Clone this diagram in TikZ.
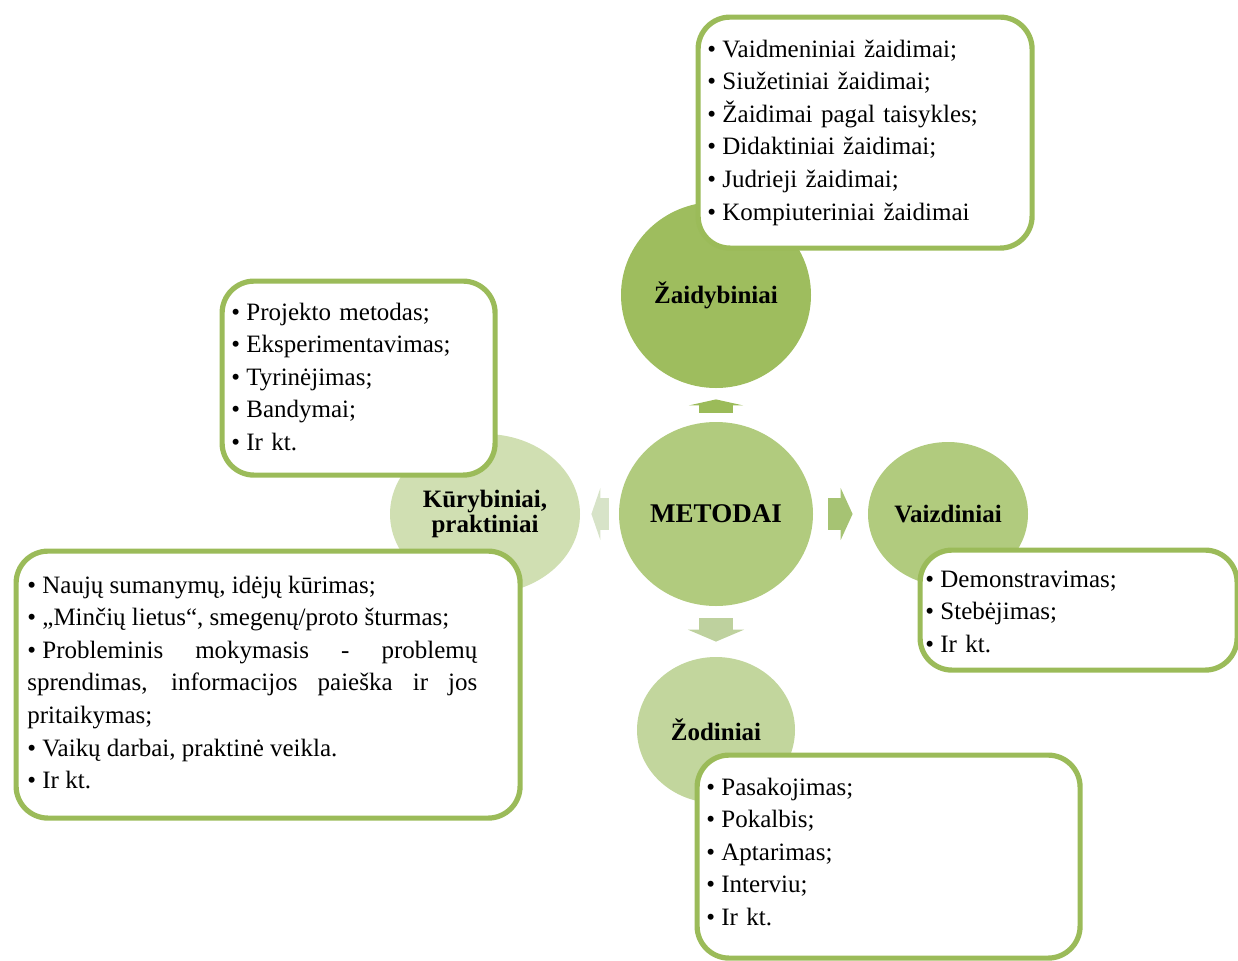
\documentclass[tikz,border=0pt]{standalone}
\usepackage{fontspec}
\setmainfont{Liberation Serif}
\usepackage{tikz}
\usetikzlibrary{shapes.geometric,arrows.meta}

\definecolor{zaidgreen}{RGB}{158,189,94}
\definecolor{metgreen}{RGB}{177,203,126}
\definecolor{zodgreen}{RGB}{194,214,157}
\definecolor{kurgreen}{RGB}{208,223,178}
\definecolor{boxgreen}{RGB}{155,187,89}
\definecolor{arrowup}{RGB}{155,187,89}
\definecolor{arrowright}{RGB}{166,195,115}
\definecolor{arrowdown}{RGB}{190,209,158}
\definecolor{arrowleft}{RGB}{215,227,200}
\newcommand\bul{•\hspace{0.25em}}

\begin{document}
\begin{tikzpicture}[x=0.5pt,y=-0.5pt,
  method/.style={ellipse,inner sep=0pt,align=center,font=\fontsize{12.5pt}{12.5pt}\selectfont\bfseries},
  listbox/.style={draw=boxgreen,line width=2.6pt,fill=white,rounded corners=16pt,anchor=north west},
  listtext/.style={inner sep=0pt,anchor=base west,font=\fontsize{12.5pt}{16.3pt}\selectfont},
  blockarrow/.style n args={3}{line width=#1,-{Triangle[length=#2,width=#3]}}]
\useasboundingbox (0,0) rectangle (1238,960);
\node[method,fill=zaidgreen,minimum width=95pt,minimum height=93pt] (zaid) at (716,295) {Žaidybiniai};
\node[method,fill=metgreen,minimum width=97pt,minimum height=92pt,font=\fontsize{13.5pt}{13.5pt}\selectfont\bfseries] (metodai) at (716,514) {METODAI};
\node[method,fill=metgreen,minimum width=80pt,minimum height=72pt] (vaizd) at (948,514) {Vaizdiniai};
\node[method,fill=zodgreen,minimum width=79pt,minimum height=73pt] (zod) at (716,730) {Žodiniai};
\node[method,fill=kurgreen,minimum width=95pt,minimum height=80pt] (kur) at (485,514) {Kūrybiniai,\\praktiniai};
\draw[arrowup,blockarrow={17pt}{3pt}{27pt},shorten <=4.5pt,shorten >=5.5pt] (metodai) -- (zaid);
\draw[arrowright,blockarrow={16pt}{6pt}{26pt},shorten <=7.5pt,shorten >=7.5pt] (metodai) -- (vaizd);
\draw[arrowdown,blockarrow={17pt}{6pt}{28pt},shorten <=6pt,shorten >=7.5pt] (metodai) -- (zod);
\draw[arrowleft,blockarrow={16pt}{4.5pt}{26pt},shorten <=5pt,shorten >=5.5pt] (metodai) -- (kur);
\node[listbox,minimum width=167pt,minimum height=115.5pt] (zaidbox) at (695.5,14.5) {};
\node[listbox,minimum width=136.5pt,minimum height=97pt] (projbox) at (219.5,278.5) {};
\node[listbox,minimum width=252pt,minimum height=133.5pt] (kurbox) at (13.5,548.5) {};
\node[listbox,minimum width=158.5pt,minimum height=60pt] (vaizdbox) at (917.5,547.5) {};
\node[listbox,minimum width=191.5pt,minimum height=101.5pt] (zodbox) at (694.5,752.5) {};
\node[listtext,text width=160pt,align=left] (zaidlist) at (707,57) {%
\bul Vaidmeniniai žaidimai;\\
\bul Siužetiniai žaidimai;\\
\bul Žaidimai pagal taisykles;\\
\bul Didaktiniai žaidimai;\\
\bul Judrieji žaidimai;\\
\bul Kompiuteriniai žaidimai};
\node[listtext,text width=130pt,align=left] (projlist) at (231,320) {%
\bul Projekto metodas;\\
\bul Eksperimentavimas;\\
\bul Tyrinėjimas;\\
\bul Bandymai;\\
\bul Ir kt.};
\node[listtext,text width=225pt,align=justify] (kurlist) at (27,593) {\hyphenpenalty=10000
\bul Naujų sumanymų, idėjų kūrimas;\\
\bul „Minčių lietus“, smegenų/proto šturmas;\\
\bul Probleminis mokymasis - problemų\linebreak sprendimas, informacijos paieška ir jos\linebreak pritaikymas;\\
\bul Vaikų darbai, praktinė veikla.\\
\bul Ir kt.};
\node[listtext,text width=140pt,align=left] (vaizdlist) at (925,587) {%
\bul Demonstravimas;\\
\bul Stebėjimas;\\
\bul Ir kt.};
\node[listtext,text width=160pt,align=left] (zodlist) at (706,795) {%
\bul Pasakojimas;\\
\bul Pokalbis;\\
\bul Aptarimas;\\
\bul Interviu;\\
\bul Ir kt.};
\end{tikzpicture}
\end{document}
